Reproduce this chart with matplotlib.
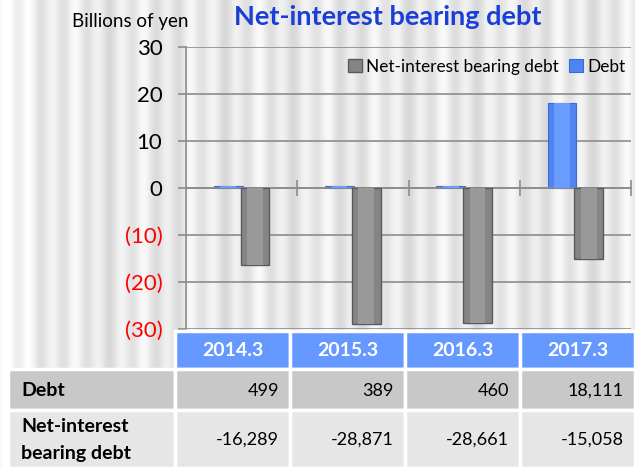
import numpy as np
import matplotlib
matplotlib.use("Agg")
import matplotlib.pyplot as plt
from matplotlib.patches import Rectangle

plt.rcParams["font.family"] = ["Lato", "DejaVu Sans"]

# data (millions of yen, plotted in billions)
periods = ["2014.3", "2015.3", "2016.3", "2017.3"]
debt = [499, 389, 460, 18111]
net_debt = [-16289, -28871, -28661, -15058]
row_labels = ["Debt", "Net-interest\nbearing debt"]
y_ticks = [30, 20, 10, 0, -10, -20, -30]

W, H = 635, 468
fig = plt.figure(figsize=(W / 100, H / 100), dpi=100)

# striped background
bg = fig.add_axes([0, 0, 1, 1], zorder=-5)
xs = np.arange(W)
stripes = 0.91 + 0.045 * np.sin(2 * np.pi * xs / 23.0) + 0.02 * np.sin(2 * np.pi * xs / 61.0)
stripes[:70] += np.linspace(0.06, 0.0, 70)
bg.imshow(stripes[np.newaxis, :], aspect="auto", cmap="gray", vmin=0, vmax=1,
          extent=[0, W, 0, H])
bg.set_axis_off()

# main chart
ax = fig.add_axes([186 / W, 1 - 329 / H, (631 - 186) / W, (329 - 47) / H])
ax.set_facecolor("none")
x = np.arange(len(periods))
debt_b = np.array(debt) / 1000
net_b = np.array(net_debt) / 1000
bw = 0.26

nb = ax.bar(x + 0.12, net_b, bw, color="#858585", edgecolor="#5a5a5a", linewidth=1.0,
            label="Net-interest bearing debt", zorder=3)
ax.bar(x + 0.12, net_b, bw * 0.55, color="#999999", linewidth=0, zorder=3.1)
db = ax.bar(x - 0.12, debt_b, bw, color="#4f84f2", edgecolor="#3a6ad8", linewidth=0.8,
            label="Debt", zorder=2.5)
ax.bar(x - 0.12, debt_b, bw * 0.55, color="#6a9bff", linewidth=0, zorder=2.6)

ax.set_xlim(-0.5, 3.5)
ax.set_ylim(-30, 30)
ax.set_yticks(y_ticks)
ax.set_yticklabels([str(v) if v >= 0 else "(%d)" % -v for v in y_ticks], fontsize=16)
for lab, v in zip(ax.get_yticklabels(), y_ticks):
    lab.set_color("black" if v >= 0 else "#ff0000")
ax.grid(axis="y", color="#8c8c8c", linewidth=1.2, zorder=0)
for s in ["top", "right"]:
    ax.spines[s].set_visible(False)
ax.spines["left"].set_color("#8c8c8c")
ax.spines["left"].set_linewidth(1.2)
ax.spines["bottom"].set_position(("data", 0))
ax.spines["bottom"].set_color("#8c8c8c")
ax.spines["bottom"].set_linewidth(1.2)
ax.set_xticks(x + 0.5)
ax.set_xticklabels([])
ax.tick_params(axis="x", direction="inout", length=12, color="#8c8c8c", width=1.2)
ax.tick_params(axis="y", direction="out", length=6, color="#8c8c8c", width=1.2, pad=11)

ax.legend(handles=[nb, db], loc="upper right", bbox_to_anchor=(1.01, 0.995), frameon=False,
          fontsize=12.4, handlelength=0.8, handleheight=0.8, handletextpad=0.25,
          columnspacing=0.6, ncol=2, borderaxespad=0.2)

fig.text(130 / W, 1 - 21 / H, "Billions of yen", fontsize=13.5, ha="center", va="center")
fig.text(388 / W, 1 - 17 / H, "Net-interest bearing debt", fontsize=19.5, fontweight="bold",
         color="#1a3fd8", ha="center", va="center")

# data table
tb = fig.add_axes([0, 0, 1, 1], zorder=5)
tb.set_xlim(0, W)
tb.set_ylim(H, 0)
tb.set_axis_off()
col_edges = [175, 290, 405, 520, 635]
row_edges = [331, 369, 410, 468]
lab_x0 = 8
for i, p in enumerate(periods):
    x0, x1 = col_edges[i], col_edges[i + 1]
    tb.add_patch(Rectangle((x0, row_edges[0]), x1 - x0, row_edges[1] - row_edges[0],
                           facecolor="#6699ff", edgecolor="white", linewidth=2.5))
    tb.text((x0 + x1) / 2, (row_edges[0] + row_edges[1]) / 2 + 1, p, color="white",
            fontsize=14, fontweight="bold", ha="center", va="center")
rows = [debt, net_debt]
fills = ["#c8c8c8", "#e6e6e6"]
for r, (lab, vals) in enumerate(zip(row_labels, rows)):
    y0, y1 = row_edges[r + 1], row_edges[r + 2]
    ym = (y0 + y1) / 2
    tb.add_patch(Rectangle((lab_x0, y0), col_edges[0] - lab_x0, y1 - y0,
                           facecolor=fills[r], edgecolor="white", linewidth=2.5))
    tb.text(lab_x0 + 13, ym + 1, lab, fontsize=14, fontweight="bold",
            ha="left", va="center", linespacing=1.65)
    for i, v in enumerate(vals):
        x0, x1 = col_edges[i], col_edges[i + 1]
        tb.add_patch(Rectangle((x0, y0), x1 - x0, y1 - y0,
                               facecolor=fills[r], edgecolor="white", linewidth=2.5))
        tb.text(x1 - 11, ym + 1, "{:,}".format(v), fontsize=13, ha="right", va="center")

fig.savefig("out.png", dpi=100)
